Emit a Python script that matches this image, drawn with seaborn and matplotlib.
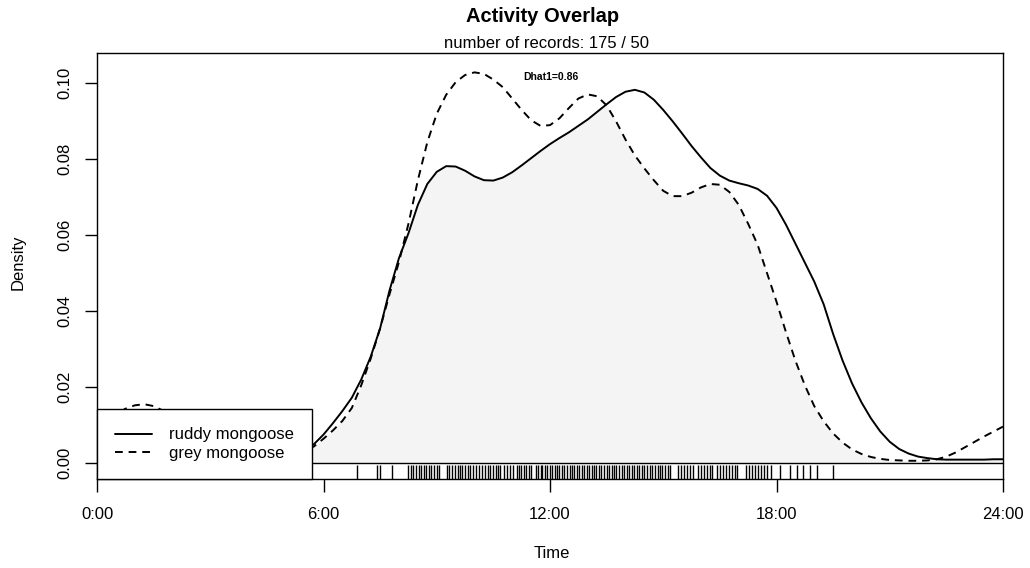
import numpy as np
import matplotlib
matplotlib.use("Agg")
import matplotlib.pyplot as plt
from matplotlib.lines import Line2D
import seaborn as sns

# ---- data ----
hours = np.arange(0, 24.01, 0.25)

ruddy = [
    0.0010, 0.0010, 0.0010, 0.0010, 0.0010, 0.0010, 0.0010, 0.0011,
    0.0011, 0.0012, 0.0012, 0.0013, 0.0014, 0.0015, 0.0016, 0.0017,
    0.0019, 0.0021, 0.0023, 0.0026, 0.0029, 0.0032, 0.0035, 0.0050,
    0.0075, 0.0105, 0.0137, 0.0172, 0.0220, 0.0280, 0.0355, 0.0455,
    0.0540, 0.0605, 0.0680, 0.0735, 0.0767, 0.0782, 0.0781, 0.0770,
    0.0755, 0.0745, 0.0744, 0.0752, 0.0766, 0.0784, 0.0803, 0.0822,
    0.0840, 0.0856, 0.0871, 0.0888, 0.0905, 0.0925, 0.0945, 0.0964,
    0.0978, 0.0983, 0.0976, 0.0957, 0.0930, 0.0900, 0.0868, 0.0835,
    0.0805, 0.0777, 0.0757, 0.0744, 0.0737, 0.0731, 0.0722, 0.0704,
    0.0672, 0.0628, 0.0578, 0.0528, 0.0478, 0.0418, 0.0340, 0.0270,
    0.0210, 0.0160, 0.0118, 0.0083, 0.0056, 0.0037, 0.0025, 0.0017,
    0.0013, 0.0010, 0.0009, 0.0009, 0.0009, 0.0009, 0.0009, 0.0010,
    0.0010,
]

grey = [
    0.0096, 0.0112, 0.0128, 0.0143, 0.0152, 0.0155, 0.0150, 0.0138,
    0.0122, 0.0105, 0.0088, 0.0072, 0.0058, 0.0046, 0.0037, 0.0031,
    0.0027, 0.0025, 0.0024, 0.0024, 0.0025, 0.0028, 0.0031, 0.0044,
    0.0064, 0.0086, 0.0111, 0.0145, 0.0205, 0.0275, 0.0355, 0.0445,
    0.0530, 0.0630, 0.0745, 0.0845, 0.0920, 0.0970, 0.1003, 0.1022,
    0.1029, 0.1025, 0.1010, 0.0990, 0.0960, 0.0930, 0.0903, 0.0888,
    0.0890, 0.0908, 0.0935, 0.0960, 0.0971, 0.0966, 0.0942, 0.0900,
    0.0852, 0.0810, 0.0776, 0.0745, 0.0717, 0.0703, 0.0703, 0.0712,
    0.0726, 0.0735, 0.0733, 0.0714, 0.0680, 0.0630, 0.0575, 0.0500,
    0.0425, 0.0345, 0.0270, 0.0205, 0.0150, 0.0110, 0.0078, 0.0054,
    0.0036, 0.0024, 0.0016, 0.0011, 0.0008, 0.0007, 0.0006, 0.0006,
    0.0007, 0.0010, 0.0017, 0.0028, 0.0042, 0.0056, 0.0070, 0.0083,
    0.0096,
]

rug_hours = [
    6.88, 7.42, 7.50, 7.81,
    8.24, 8.31, 8.36, 8.45, 8.52, 8.58, 8.66, 8.71, 8.80, 8.86, 8.93, 9.01, 9.07,
    9.27, 9.33, 9.41, 9.48, 9.55, 9.62, 9.68, 9.76, 9.83, 9.88,
    9.96, 10.04, 10.12, 10.19, 10.27, 10.35, 10.41,
    10.49, 10.57, 10.63, 10.68, 10.78, 10.86, 10.93, 11.01,
    11.12, 11.18, 11.24, 11.31, 11.37, 11.44, 11.50,
    11.62, 11.68, 11.75, 11.80, 11.87, 11.93, 12.00, 12.06, 12.12, 12.19,
    12.25, 12.31, 12.38, 12.45, 12.52, 12.58, 12.64, 12.71, 12.77, 12.84,
    12.90, 12.97, 13.03, 13.10, 13.16, 13.22, 13.30, 13.36, 13.43, 13.50,
    13.56, 13.63, 13.69, 13.76, 13.84, 13.90, 13.96, 14.03, 14.10, 14.16,
    14.23, 14.30, 14.36, 14.43, 14.50, 14.56, 14.64, 14.70, 14.78, 14.85,
    14.92, 14.98, 15.05, 15.12, 15.18,
    15.40, 15.47, 15.55, 15.62, 15.70, 15.78,
    15.92, 16.00, 16.08, 16.16, 16.24, 16.30,
    16.42, 16.50, 16.58, 16.66, 16.74, 16.82, 16.90, 16.96,
    17.20, 17.28, 17.36, 17.44, 17.52, 17.60, 17.68, 17.76, 17.86,
    18.10, 18.36, 18.55, 18.70, 18.88, 19.07, 19.50,
]

series_names = ["ruddy mongoose", "grey mongoose"]
tick_hours = [0, 6, 12, 18, 24]
tick_labels = ["0:00", "6:00", "12:00", "18:00", "24:00"]
y_ticks = [0.00, 0.02, 0.04, 0.06, 0.08, 0.10]
title = "Activity Overlap"
subtitle = "number of records: 175 / 50"
dhat_label = "Dhat1=0.86"

# ---- style ----
sns.set_style("ticks")
plt.rcParams["font.family"] = ["Liberation Sans", "DejaVu Sans"]
plt.rcParams["axes.linewidth"] = 1.0
plt.rcParams["text.color"] = "black"
plt.rcParams["axes.labelcolor"] = "black"
plt.rcParams["xtick.color"] = "black"
plt.rcParams["ytick.color"] = "black"

fig = plt.figure(figsize=(10.30, 5.68), dpi=100)
ax = fig.add_axes([97 / 1030, 1 - 479 / 568, (1003 - 97) / 1030, (479 - 53) / 568])

ruddy_arr = np.array(ruddy)
grey_arr = np.array(grey)

ax.fill_between(hours, 0, np.minimum(ruddy_arr, grey_arr), color="#f4f4f4", lw=0, zorder=1)
ax.axhline(0, color="black", lw=1.0, zorder=2)

sns.lineplot(x=hours, y=ruddy_arr, ax=ax, color="black", lw=1.4, zorder=3)
sns.lineplot(x=hours, y=grey_arr, ax=ax, color="black", lw=1.4, zorder=3)
ax.lines[-1].set_linestyle((0, (4, 3)))

sns.rugplot(x=rug_hours, ax=ax, height=0.032, color="black", lw=1.2, zorder=3)

ax.set_xlim(0, 24)
ax.set_ylim(-0.0042, 0.108)
ax.set_xticks(tick_hours)
ax.set_xticklabels(tick_labels)
ax.set_yticks(y_ticks)
ax.set_yticklabels([f"{v:.2f}" for v in y_ticks], rotation=90, va="center")
ax.tick_params(axis="both", direction="out", length=9, width=1.0, labelsize=12,
               color="black", labelcolor="black")
ax.tick_params(axis="x", pad=11)
ax.tick_params(axis="y", pad=9)
for s in ax.spines.values():
    s.set_visible(True)
    s.set_color("black")
ax.set_xlabel("")
ax.set_ylabel("")

ax.text(12.03, 0.1017, dhat_label, ha="center", va="center", fontsize=7.5, fontweight="bold")

fig.text(543 / 1030, 1 - 17 / 568, title, ha="center", va="center", fontsize=14.5, fontweight="bold")
fig.text(546 / 1030, 1 - 43 / 568, subtitle, ha="center", va="center", fontsize=12)
fig.text(552 / 1030, 1 - 553 / 568, "Time", ha="center", va="center", fontsize=12)
fig.text(18 / 1030, 1 - 262 / 568, "Density", ha="center", va="center", fontsize=12, rotation=90)

handles = [
    Line2D([0], [0], color="black", lw=1.4),
    Line2D([0], [0], color="black", lw=1.4, linestyle=(0, (4, 3))),
]
leg = ax.legend(handles, series_names, loc="lower left", borderaxespad=0, fontsize=12,
                frameon=True, fancybox=False, edgecolor="black", framealpha=1,
                borderpad=1.1, labelspacing=0.2, handlelength=2.2, handletextpad=1.0)
leg.get_frame().set_linewidth(1.0)
leg.set_zorder(5)

fig.savefig("out.png", dpi=100)
